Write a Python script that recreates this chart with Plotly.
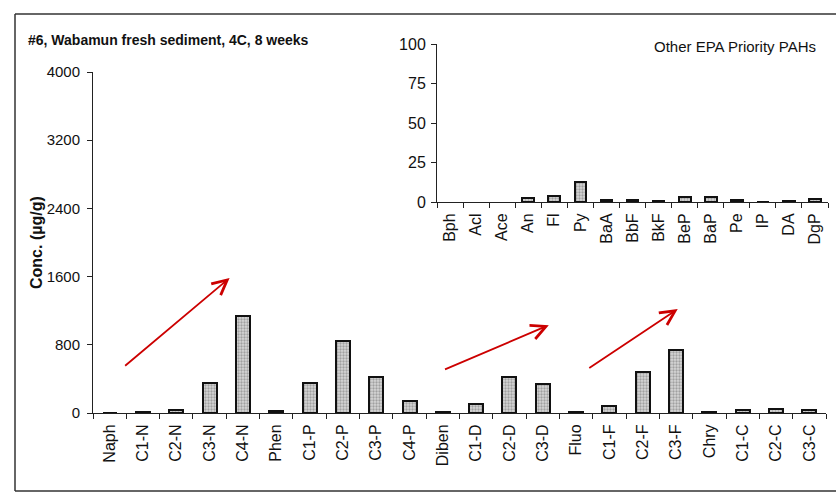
import plotly.graph_objects as go

W, H = 836, 492

# Alkylated PAH homologues (main panel), µg/g
alkyl_labels = ["Naph", "C1-N", "C2-N", "C3-N", "C4-N", "Phen", "C1-P", "C2-P", "C3-P", "C4-P",
                "Diben", "C1-D", "C2-D", "C3-D", "Fluo", "C1-F", "C2-F", "C3-F",
                "Chry", "C1-C", "C2-C", "C3-C"]
alkyl_conc = [3, 10, 40, 352, 1138, 25, 352, 845, 422, 141,
              10, 110, 422, 340, 10, 85, 485, 739,
              10, 30, 45, 35]

# Other EPA priority PAHs (inset), µg/g
epa_labels = ["Bph", "Acl", "Ace", "An", "Fl", "Py", "BaA", "BbF", "BkF", "BeP",
              "BaP", "Pe", "IP", "DA", "DgP"]
epa_conc = [0, 0, 0, 2.5, 3.8, 12.9, 1.5, 1.5, 0.4, 3.4, 3.0, 1.4, 0.3, 0.9, 1.9]

main_ticks = [0, 800, 1600, 2400, 3200, 4000]
inset_ticks = [0, 25, 50, 75, 100]

# Trend arrows (category index, concentration): tail -> head
trend_arrows = [((0.42, 540), (3.60, 1584)),
                ((10.02, 504), (13.18, 1030)),
                ((14.35, 516), (17.05, 1220))]

FONT = "Liberation Sans, Arial, sans-serif"


def px_x(p):
    return p / W


def px_y(p):
    return 1 - p / H


def bar_style(values, lw=2):
    # no outline for empty bars, so zero values leave no mark
    return dict(
        color="#cfcfcf",
        line=dict(color="#111", width=[lw if v > 0 else 0 for v in values]),
        pattern=dict(shape=".", fgcolor="#6a6a6a", bgcolor="#d6d6d6", size=3, solidity=0.45),
    )


fig = go.Figure()
fig.add_trace(go.Bar(x=alkyl_labels, y=alkyl_conc, width=0.42, marker=bar_style(alkyl_conc),
                     xaxis="x", yaxis="y", showlegend=False))
fig.add_trace(go.Bar(x=epa_labels, y=epa_conc, width=0.45, marker=bar_style(epa_conc),
                     xaxis="x2", yaxis="y2", showlegend=False))

axis_common = dict(showline=True, linecolor="#222", linewidth=1, showgrid=False,
                   zeroline=False, ticks="outside", ticklen=5, tickcolor="#222",
                   automargin=False, fixedrange=True)

fig.update_layout(
    width=W, height=H,
    margin=dict(l=0, r=0, t=0, b=0),
    paper_bgcolor="white", plot_bgcolor="rgba(0,0,0,0)",
    font=dict(family=FONT, color="#111"),
    bargap=0,
    xaxis=dict(domain=[px_x(93), px_x(826)], anchor="y", tickangle=-90,
               tickson="boundaries", tickfont=dict(size=16), ticklabelstandoff=4,
               **axis_common),
    yaxis=dict(domain=[px_y(413), px_y(72)], anchor="x", range=[0, 4000],
               tickvals=main_ticks, tickfont=dict(size=15), ticklabelstandoff=4,
               **axis_common),
    xaxis2=dict(domain=[px_x(437), px_x(828)], anchor="y2", tickangle=-90,
                tickson="boundaries", tickfont=dict(size=16), ticklabelstandoff=4,
                **axis_common),
    yaxis2=dict(domain=[px_y(202), px_y(44)], anchor="x2", range=[0, 100],
                tickvals=inset_ticks, tickfont=dict(size=16), ticklabelstandoff=2,
                **axis_common),
)

annotations = [
    dict(text="<b>#6, Wabamun fresh sediment, 4C, 8 weeks</b>", xref="paper", yref="paper",
         x=px_x(26), y=px_y(40), xanchor="left", yanchor="middle", showarrow=False,
         font=dict(size=14)),
    dict(text="Other EPA Priority PAHs", xref="paper", yref="paper",
         x=px_x(818), y=px_y(46), xanchor="right", yanchor="middle", showarrow=False,
         font=dict(size=15)),
    dict(text="<b>Conc. (µg/g)</b>", xref="paper", yref="paper", textangle=-90,
         x=px_x(36), y=px_y(243), xanchor="center", yanchor="middle", showarrow=False,
         font=dict(size=16)),
]
for (tx, ty), (hx, hy) in trend_arrows:
    annotations.append(dict(x=hx, y=hy, ax=tx, ay=ty, xref="x", yref="y", axref="x", ayref="y",
                            text="", showarrow=True, arrowhead=5, arrowsize=1.6,
                            arrowwidth=1.8, arrowcolor="#cc0000"))
fig.update_layout(annotations=annotations)

# outer frame of the figure panel
frame = dict(type="line", xref="paper", yref="paper", line=dict(color="#333", width=1.5))
fig.update_layout(shapes=[
    dict(frame, x0=px_x(15), x1=px_x(15), y0=px_y(14), y1=px_y(491)),
    dict(frame, x0=px_x(15), x1=1, y0=px_y(14), y1=px_y(14)),
    dict(frame, x0=px_x(15), x1=1, y0=px_y(491), y1=px_y(491)),
])

fig.write_html("out.html")
